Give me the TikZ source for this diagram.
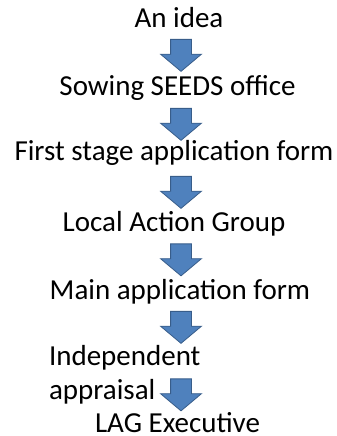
\documentclass[tikz,border=0pt]{standalone}
\usepackage{fontspec}
\setmainfont{Carlito}
\usetikzlibrary{shapes.arrows}

\definecolor{setaazul}{RGB}{79,129,189}
\definecolor{setaborda}{RGB}{56,93,138}

\begin{document}
\begin{tikzpicture}[x=1pt,y=1pt]
\tikzset{ inner sep=0pt, outer sep=0pt,
  etapa/.style={font=\fontsize{29}{34}\selectfont, anchor=base},
  seta/.style={single arrow, fill=setaazul, draw=setaborda, line width=0.8pt,
    shape border rotate=270, inner xsep=10pt, inner ysep=0pt, minimum height=32pt,
    single arrow head extend=10pt, single arrow tip angle=100},
}
\useasboundingbox (0,0) rectangle (337,436);

%%% Etapas

\node [etapa] (ideia)     at (179,408) {An idea};
\node [etapa] (seeds)     at (177.5,340) {Sowing SEEDS office};
\node [etapa] (primeira)  at (174,275) {First stage application form};
\node [etapa] (lag)       at (174,204) {Local Action Group};
\node [etapa] (principal) at (180,136) {Main application form};
\node [etapa, anchor=base west, align=left] (avaliacao) at (49,36) {Independent\\appraisal};
\node [etapa] (executivo) at (177.5,3) {LAG Executive};

%%% Setas

% ideia -> seeds
\node [seta] (s1) at (181,385) {};
% seeds -> primeira
\node [seta] (s2) at (181,316) {};
% primeira -> lag
\node [seta] (s3) at (181,248) {};
% lag -> principal
\node [seta] (s4) at (181,180.5) {};
% principal -> avaliacao
\node [seta] (s5) at (181,113) {};
% avaliacao -> executivo
\node [seta] (s6) at (181,45.5) {};

\end{tikzpicture}
\end{document}
